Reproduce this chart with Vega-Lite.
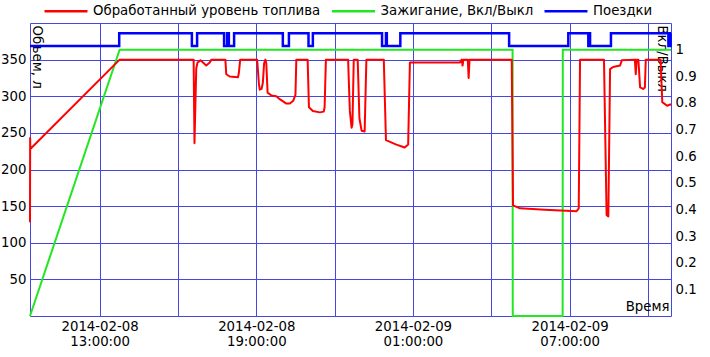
{
  "$schema": "https://vega.github.io/schema/vega-lite/v6.json",
  "autosize": "none",
  "width": 641,
  "height": 293,
  "padding": {"left": 30, "top": 23, "right": 39, "bottom": 41},
  "background": "white",
  "config": {
    "font": "DejaVu Sans",
    "view": {"stroke": "#4646e0", "strokeWidth": 1},
    "axis": {
      "labelFont": "DejaVu Sans", "labelFontSize": 13.3, "labelColor": "#000000",
      "titleFont": "DejaVu Sans", "titleFontSize": 13.3, "titleFontWeight": "normal", "titleColor": "#000000",
      "domain": false, "ticks": false,
      "gridColor": "#4646e0", "gridOpacity": 1, "gridWidth": 1
    }
  },
  "datasets": {
    "fuel": [
      {"t": "2014-02-08T10:20:00Z", "v": 128},
      {"t": "2014-02-08T10:20:20Z", "v": 243},
      {"t": "2014-02-08T10:20:40Z", "v": 228},
      {"t": "2014-02-08T13:46:00Z", "v": 350},
      {"t": "2014-02-08T16:36:00Z", "v": 350},
      {"t": "2014-02-08T16:38:00Z", "v": 236},
      {"t": "2014-02-08T16:42:00Z", "v": 338},
      {"t": "2014-02-08T16:45:00Z", "v": 346},
      {"t": "2014-02-08T16:52:00Z", "v": 349},
      {"t": "2014-02-08T17:05:00Z", "v": 342},
      {"t": "2014-02-08T17:13:00Z", "v": 346},
      {"t": "2014-02-08T17:17:00Z", "v": 350},
      {"t": "2014-02-08T17:49:00Z", "v": 350},
      {"t": "2014-02-08T17:51:00Z", "v": 330},
      {"t": "2014-02-08T17:59:00Z", "v": 327},
      {"t": "2014-02-08T18:18:00Z", "v": 326},
      {"t": "2014-02-08T18:20:00Z", "v": 332},
      {"t": "2014-02-08T18:23:00Z", "v": 350},
      {"t": "2014-02-08T19:02:00Z", "v": 350},
      {"t": "2014-02-08T19:06:00Z", "v": 317},
      {"t": "2014-02-08T19:08:00Z", "v": 309},
      {"t": "2014-02-08T19:12:00Z", "v": 310},
      {"t": "2014-02-08T19:15:00Z", "v": 318},
      {"t": "2014-02-08T19:18:00Z", "v": 345},
      {"t": "2014-02-08T19:21:00Z", "v": 350},
      {"t": "2014-02-08T19:23:00Z", "v": 345},
      {"t": "2014-02-08T19:26:00Z", "v": 305},
      {"t": "2014-02-08T19:35:00Z", "v": 301},
      {"t": "2014-02-08T19:46:00Z", "v": 300},
      {"t": "2014-02-08T19:54:00Z", "v": 296},
      {"t": "2014-02-08T20:09:00Z", "v": 290},
      {"t": "2014-02-08T20:17:00Z", "v": 290},
      {"t": "2014-02-08T20:25:00Z", "v": 294},
      {"t": "2014-02-08T20:30:00Z", "v": 302},
      {"t": "2014-02-08T20:32:00Z", "v": 350},
      {"t": "2014-02-08T20:58:00Z", "v": 350},
      {"t": "2014-02-08T21:01:00Z", "v": 285},
      {"t": "2014-02-08T21:10:00Z", "v": 280},
      {"t": "2014-02-08T21:26:00Z", "v": 278},
      {"t": "2014-02-08T21:35:00Z", "v": 279},
      {"t": "2014-02-08T21:37:00Z", "v": 285},
      {"t": "2014-02-08T21:40:00Z", "v": 350},
      {"t": "2014-02-08T22:31:00Z", "v": 350},
      {"t": "2014-02-08T22:35:00Z", "v": 280},
      {"t": "2014-02-08T22:39:00Z", "v": 257},
      {"t": "2014-02-08T22:41:00Z", "v": 262},
      {"t": "2014-02-08T22:44:00Z", "v": 350},
      {"t": "2014-02-08T22:53:00Z", "v": 350},
      {"t": "2014-02-08T22:57:00Z", "v": 270},
      {"t": "2014-02-08T23:02:00Z", "v": 253},
      {"t": "2014-02-08T23:09:00Z", "v": 252},
      {"t": "2014-02-08T23:13:00Z", "v": 350},
      {"t": "2014-02-08T23:53:00Z", "v": 350},
      {"t": "2014-02-08T23:58:00Z", "v": 240},
      {"t": "2014-02-09T00:22:00Z", "v": 234},
      {"t": "2014-02-09T00:41:00Z", "v": 230},
      {"t": "2014-02-09T00:49:00Z", "v": 234},
      {"t": "2014-02-09T00:53:00Z", "v": 346},
      {"t": "2014-02-09T02:48:00Z", "v": 346},
      {"t": "2014-02-09T02:52:00Z", "v": 350},
      {"t": "2014-02-09T02:54:00Z", "v": 342},
      {"t": "2014-02-09T02:56:00Z", "v": 350},
      {"t": "2014-02-09T03:06:00Z", "v": 350},
      {"t": "2014-02-09T03:08:00Z", "v": 325},
      {"t": "2014-02-09T03:10:00Z", "v": 350},
      {"t": "2014-02-09T04:47:00Z", "v": 350},
      {"t": "2014-02-09T04:50:00Z", "v": 151},
      {"t": "2014-02-09T05:06:00Z", "v": 147},
      {"t": "2014-02-09T06:03:00Z", "v": 145},
      {"t": "2014-02-09T07:16:00Z", "v": 143},
      {"t": "2014-02-09T07:21:00Z", "v": 147},
      {"t": "2014-02-09T07:24:00Z", "v": 350},
      {"t": "2014-02-09T08:19:00Z", "v": 350},
      {"t": "2014-02-09T08:25:00Z", "v": 138},
      {"t": "2014-02-09T08:29:00Z", "v": 136},
      {"t": "2014-02-09T08:33:00Z", "v": 337},
      {"t": "2014-02-09T08:40:00Z", "v": 340},
      {"t": "2014-02-09T08:56:00Z", "v": 342},
      {"t": "2014-02-09T09:00:00Z", "v": 349},
      {"t": "2014-02-09T09:30:00Z", "v": 350},
      {"t": "2014-02-09T09:32:00Z", "v": 330},
      {"t": "2014-02-09T09:34:00Z", "v": 350},
      {"t": "2014-02-09T09:38:00Z", "v": 350},
      {"t": "2014-02-09T09:42:00Z", "v": 312},
      {"t": "2014-02-09T09:49:00Z", "v": 310},
      {"t": "2014-02-09T09:53:00Z", "v": 312},
      {"t": "2014-02-09T09:55:00Z", "v": 350},
      {"t": "2014-02-09T10:29:00Z", "v": 350},
      {"t": "2014-02-09T10:33:00Z", "v": 292},
      {"t": "2014-02-09T10:44:00Z", "v": 287},
      {"t": "2014-02-09T10:53:00Z", "v": 289}
    ],
    "ignition": [
      {"t": "2014-02-08T10:20:00Z", "v": 0},
      {"t": "2014-02-08T13:46:00Z", "v": 1},
      {"t": "2014-02-09T04:49:00Z", "v": 1},
      {"t": "2014-02-09T04:49:20Z", "v": 0},
      {"t": "2014-02-09T06:44:00Z", "v": 0},
      {"t": "2014-02-09T06:44:20Z", "v": 1},
      {"t": "2014-02-09T10:53:00Z", "v": 1}
    ],
    "trips": [
      {"t": "2014-02-08T10:20:00Z", "v": 0},
      {"t": "2014-02-08T13:45:00Z", "v": 1},
      {"t": "2014-02-08T16:32:00Z", "v": 0},
      {"t": "2014-02-08T16:44:00Z", "v": 1},
      {"t": "2014-02-08T17:46:00Z", "v": 0},
      {"t": "2014-02-08T17:53:00Z", "v": 1},
      {"t": "2014-02-08T17:57:00Z", "v": 0},
      {"t": "2014-02-08T18:09:00Z", "v": 1},
      {"t": "2014-02-08T20:01:00Z", "v": 0},
      {"t": "2014-02-08T20:15:00Z", "v": 1},
      {"t": "2014-02-08T21:00:00Z", "v": 0},
      {"t": "2014-02-08T21:10:00Z", "v": 1},
      {"t": "2014-02-08T23:49:00Z", "v": 0},
      {"t": "2014-02-08T23:58:00Z", "v": 1},
      {"t": "2014-02-09T00:00:00Z", "v": 0},
      {"t": "2014-02-09T00:31:00Z", "v": 1},
      {"t": "2014-02-09T04:41:00Z", "v": 0},
      {"t": "2014-02-09T06:57:00Z", "v": 1},
      {"t": "2014-02-09T07:43:00Z", "v": 0},
      {"t": "2014-02-09T07:45:00Z", "v": 1},
      {"t": "2014-02-09T07:47:00Z", "v": 0},
      {"t": "2014-02-09T08:35:00Z", "v": 1},
      {"t": "2014-02-09T10:47:00Z", "v": 0},
      {"t": "2014-02-09T10:52:00Z", "v": 1},
      {"t": "2014-02-09T10:53:00Z", "v": 1}
    ]
  },
  "encoding": {
    "x": {
      "field": "t", "type": "temporal",
      "scale": {
        "type": "utc", "nice": false,
        "domain": [
          {"year": 2014, "month": 2, "date": 8, "hours": 10, "minutes": 20, "utc": true},
          {"year": 2014, "month": 2, "date": 9, "hours": 10, "minutes": 53, "utc": true}
        ]
      },
      "axis": {
        "values": [
          {"year": 2014, "month": 2, "date": 8, "hours": 13, "utc": true},
          {"year": 2014, "month": 2, "date": 8, "hours": 16, "utc": true},
          {"year": 2014, "month": 2, "date": 8, "hours": 19, "utc": true},
          {"year": 2014, "month": 2, "date": 8, "hours": 22, "utc": true},
          {"year": 2014, "month": 2, "date": 9, "hours": 1, "utc": true},
          {"year": 2014, "month": 2, "date": 9, "hours": 4, "utc": true},
          {"year": 2014, "month": 2, "date": 9, "hours": 7, "utc": true},
          {"year": 2014, "month": 2, "date": 9, "hours": 10, "utc": true}
        ],
        "labelExpr": "utchours(datum.value) % 6 == 1 ? [utcFormat(datum.value, '%Y-%m-%d'), utcFormat(datum.value, '%H:%M:%S')] : ''",
        "labelOverlap": false,
        "labelFlush": false,
        "labelPadding": 3,
        "labelLineHeight": 15,
        "grid": true,
        "title": "Время",
        "titleX": 639,
        "titleY": -3,
        "titleAlign": "right",
        "titleBaseline": "bottom",
        "titleAngle": 0
      }
    }
  },
  "layer": [
    {
      "data": {"name": "ignition"},
      "mark": {"type": "line", "strokeWidth": 2, "interpolate": "linear"},
      "encoding": {
        "y": {
          "field": "v", "type": "quantitative",
          "scale": {"domain": [0, 1.1], "nice": false, "zero": false},
          "axis": {
            "orient": "right",
            "values": [0.1, 0.2, 0.3, 0.4, 0.5, 0.6, 0.7, 0.8, 0.9, 1],
            "format": ".1~f",
            "grid": false,
            "labelPadding": 4,
            "title": "Вкл/Выкл",
            "titleAngle": 90,
            "titleAlign": "left",
            "titleBaseline": "top",
            "titleX": -3,
            "titleY": 2
          }
        },
        "color": {
          "datum": "Зажигание, Вкл/Выкл",
          "scale": {
            "domain": ["Обработанный уровень топлива", "Зажигание, Вкл/Выкл", "Поездки"],
            "range": ["#ff0000", "#22e622", "#0000ff"]
          },
          "legend": {
            "orient": "none",
            "legendX": 13,
            "legendY": -35,
            "direction": "horizontal",
            "title": null,
            "symbolType": "stroke",
            "symbolSize": 1849,
            "symbolStrokeWidth": 2.5,
            "labelFont": "DejaVu Sans",
            "labelFontSize": 13.3,
            "labelColor": "#000000",
            "labelOffset": 4,
            "columnPadding": 5.5,
            "labelLimit": 400
          }
        }
      }
    },
    {
      "data": {"name": "fuel"},
      "mark": {"type": "line", "strokeWidth": 2, "interpolate": "linear", "strokeJoin": "round"},
      "encoding": {
        "y": {
          "field": "v", "type": "quantitative",
          "scale": {"domain": [0, 400], "nice": false},
          "axis": {
            "orient": "left",
            "values": [50, 100, 150, 200, 250, 300, 350],
            "grid": true,
            "labelPadding": 4,
            "title": "Объем, л",
            "titleAngle": 90,
            "titleAlign": "left",
            "titleBaseline": "alphabetic",
            "titleX": 2,
            "titleY": 2
          }
        },
        "color": {
          "datum": "Обработанный уровень топлива",
          "scale": {
            "domain": ["Обработанный уровень топлива", "Зажигание, Вкл/Выкл", "Поездки"],
            "range": ["#ff0000", "#22e622", "#0000ff"]
          }
        }
      }
    },
    {
      "data": {"name": "trips"},
      "mark": {"type": "line", "strokeWidth": 2.5, "interpolate": "step-after"},
      "encoding": {
        "y": {
          "field": "v", "type": "quantitative",
          "scale": {"domain": [-21.26, 1.81], "nice": false, "zero": false},
          "axis": null
        },
        "color": {
          "datum": "Поездки",
          "scale": {
            "domain": ["Обработанный уровень топлива", "Зажигание, Вкл/Выкл", "Поездки"],
            "range": ["#ff0000", "#22e622", "#0000ff"]
          }
        }
      }
    }
  ],
  "resolve": {"scale": {"y": "independent"}}
}
